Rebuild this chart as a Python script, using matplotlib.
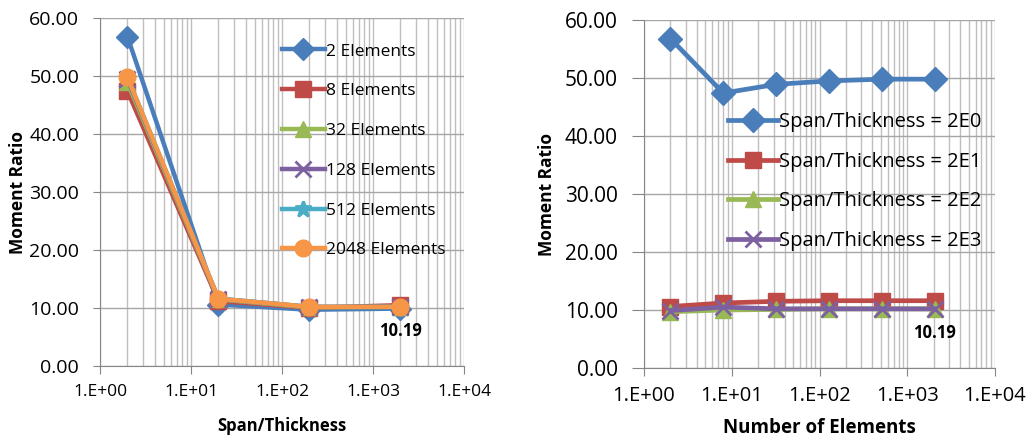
import numpy as np
import matplotlib.pyplot as plt
from matplotlib.ticker import FuncFormatter, LogLocator, NullFormatter

plt.rcParams['font.family'] = ['Open Sans', 'DejaVu Sans']

span_thickness = [2, 20, 200, 2000]
elements = [2, 8, 32, 128, 512, 2048]

# moment ratio, one row per span/thickness, one column per element count
ratio_st2 = [56.8, 47.4, 48.9, 49.5, 49.8, 49.8]
ratio_st20 = [10.6, 11.2, 11.5, 11.6, 11.6, 11.6]
ratio_st200 = [9.7, 10.0, 10.1, 10.2, 10.2, 10.2]
ratio_st2000 = [9.9, 10.5, 10.2, 10.2, 10.2, 10.19]

elem_labels = ['2 Elements', '8 Elements', '32 Elements', '128 Elements',
               '512 Elements', '2048 Elements']
st_labels = ['Span/Thickness = 2E0', 'Span/Thickness = 2E1',
             'Span/Thickness = 2E2', 'Span/Thickness = 2E3']

R = np.array([ratio_st2, ratio_st20, ratio_st200, ratio_st2000])

colors = ['#4A7EBB', '#BE4B48', '#98B954', '#7D60A0', '#4BACC6', '#F79646']
markers = ['D', 's', '^', 'x', '*', 'o']
msizes = [11, 11, 11, 11, 12, 12]


def style(ax, xlabel, ysize, xsize, labsize, ytick_len, ylab_x, xlab_y):
    ax.set_xscale('log')
    ax.set_xlim(1, 1e4)
    ax.set_ylim(0, 60)
    ax.set_yticks(np.arange(0, 61, 10))
    ax.yaxis.set_major_formatter(FuncFormatter(lambda v, p: '%.2f' % v))
    ax.xaxis.set_major_locator(LogLocator(base=10, numticks=10))
    ax.xaxis.set_minor_locator(LogLocator(base=10, subs=np.arange(2, 10), numticks=10))
    ax.xaxis.set_major_formatter(FuncFormatter(lambda v, p: '1.E+%02d' % round(np.log10(v))))
    ax.xaxis.set_minor_formatter(NullFormatter())
    ax.grid(True, which='both', axis='x', color='#BFBFBF', lw=1)
    ax.grid(True, which='major', axis='y', color='#A6A6A6', lw=1)
    ax.set_axisbelow(True)
    for s in ['top', 'right']:
        ax.spines[s].set_visible(False)
    for s in ['left', 'bottom']:
        ax.spines[s].set_color('#868686')
    ax.tick_params(which='minor', length=0)
    ax.tick_params(axis='y', which='major', labelsize=ysize, length=ytick_len,
                   color='#868686', direction='out', pad=10)
    ax.tick_params(axis='x', which='major', labelsize=xsize, length=6,
                   color='#868686', direction='out', pad=7)
    ax.set_ylabel('Moment Ratio', fontsize=12.5, fontweight='bold')
    ax.set_xlabel(xlabel, fontsize=labsize, fontweight='bold')
    ax.yaxis.set_label_coords(ylab_x, 0.5)
    ax.xaxis.set_label_coords(0.5, xlab_y)


fig = plt.figure(figsize=(10.31, 4.38), dpi=100)
ax1 = fig.add_axes([100 / 1031, 72 / 438, 364 / 1031, 348 / 438])
ax2 = fig.add_axes([644 / 1031, 70 / 438, 351 / 1031, 348 / 438])

for j in range(len(elements)):
    ax1.plot(span_thickness, R[:, j], color=colors[j], marker=markers[j],
             ms=msizes[j], lw=3.2, mew=2 if markers[j] in 'x*' else 1,
             label=elem_labels[j])
style(ax1, 'Span/Thickness', 14, 12.5, 12, 5, -0.2, -0.147)
ax1.legend(loc='upper left', bbox_to_anchor=(0.48, 0.947), frameon=False,
           fontsize=12.5, handlelength=2.5, handletextpad=0.05, labelspacing=1.36,
           borderaxespad=0)
ax1.annotate('%.2f' % R[3, 5], (span_thickness[3], R[3, 5]), xytext=(0, -21),
             textcoords='offset points', ha='center', fontsize=12, fontweight='bold')

for i in range(len(span_thickness)):
    ax2.plot(elements, R[i], color=colors[i], marker=markers[i],
             ms=msizes[i] + 1, lw=3.4, mew=2 if markers[i] == 'x' else 1,
             label=st_labels[i])
style(ax2, 'Number of Elements', 15, 14.5, 13.5, 9, -0.25, -0.144)
ax2.legend(loc='upper left', bbox_to_anchor=(0.217, 0.759), frameon=False,
           fontsize=14.5, handlelength=2.45, handletextpad=0.05, labelspacing=0.98,
           borderaxespad=0)
ax2.annotate('%.2f' % R[3, 5], (elements[5], R[3, 5]), xytext=(0, -21),
             textcoords='offset points', ha='center', fontsize=12, fontweight='bold')

fig.savefig('out.png', dpi=100)
